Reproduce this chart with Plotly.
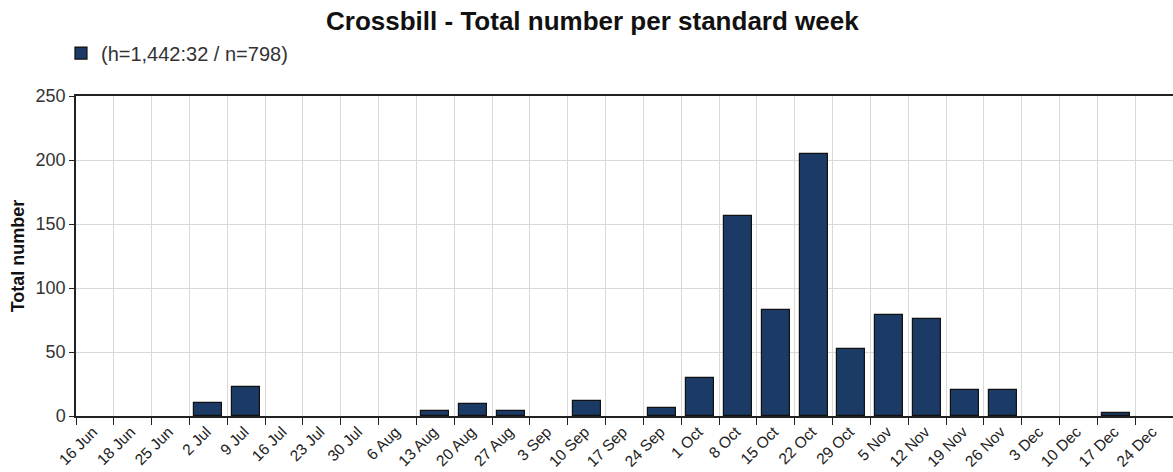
import plotly.graph_objects as go

weeks = ["16 Jun", "18 Jun", "25 Jun", "2 Jul", "9 Jul", "16 Jul", "23 Jul", "30 Jul",
         "6 Aug", "13 Aug", "20 Aug", "27 Aug", "3 Sep", "10 Sep", "17 Sep", "24 Sep",
         "1 Oct", "8 Oct", "15 Oct", "22 Oct", "29 Oct", "5 Nov", "12 Nov", "19 Nov",
         "26 Nov", "3 Dec", "10 Dec", "17 Dec", "24 Dec"]
totals = [0, 0, 0, 10, 23, 0, 0, 0,
          0, 4, 9, 4, 0, 12, 0, 6,
          30, 156, 83, 205, 52, 79, 76, 20,
          20, 0, 0, 2, 0]
series_name = "(h=1,442:32 / n=798)"
title_text = "Crossbill - Total number per standard week"
y_title = "Total number"

idx = list(range(len(weeks)))
xpos = [i + 0.5 for i in idx]
yvals = [v if v else None for v in totals]

fig = go.Figure()
fig.add_trace(go.Bar(
    x=xpos, y=yvals, name=series_name, width=0.74,
    marker=dict(color="#1b3a66", line=dict(color="#111111", width=1.2)),
    showlegend=True,
))

font = "Liberation Sans, Arial, sans-serif"
fig.update_layout(
    width=1173, height=472,
    margin=dict(l=76, r=0, t=96, b=56, autoexpand=False),
    paper_bgcolor="white", plot_bgcolor="white",
    font=dict(family=font, color="#333333", size=13),
    title=dict(text="<b>" + title_text + "</b>", x=0.505, xanchor="center",
               y=0.956, yanchor="middle", font=dict(size=26, color="#111111")),
    showlegend=True,
    legend=dict(x=-0.0137, xanchor="left", y=1.134, yanchor="middle",
                font=dict(size=20, color="#333333"), bgcolor="rgba(0,0,0,0)",
                itemwidth=30),
    bargap=0,
    xaxis=dict(
        range=[0, len(weeks)], tickmode="array", tickvals=idx, ticktext=weeks,
        tickangle=-45, ticks="outside", ticklen=7, tickcolor="#222222",
        ticklabelshift=17, ticklabelstandoff=-8,
        showgrid=True, gridcolor="#d9d9d9", gridwidth=1,
        showline=True, linecolor="#222222", linewidth=1.5, mirror=True,
        zeroline=False, tickfont=dict(size=15.5, color="#222222"),
    ),
    yaxis=dict(
        range=[0, 250], tickvals=[0, 50, 100, 150, 200, 250],
        ticks="outside", ticklen=5, tickcolor="#222222",
        showgrid=True, gridcolor="#d9d9d9", gridwidth=1,
        showline=True, linecolor="#222222", linewidth=1.5,
        zeroline=False, tickfont=dict(size=18, color="#333333"),
        title=dict(text="<b>" + y_title + "</b>", font=dict(size=18, color="#111111"),
                   standoff=6),
    ),
)

fig.write_html("out.html", config={"displayModeBar": False},
               post_script="document.body.style.margin='0';")
